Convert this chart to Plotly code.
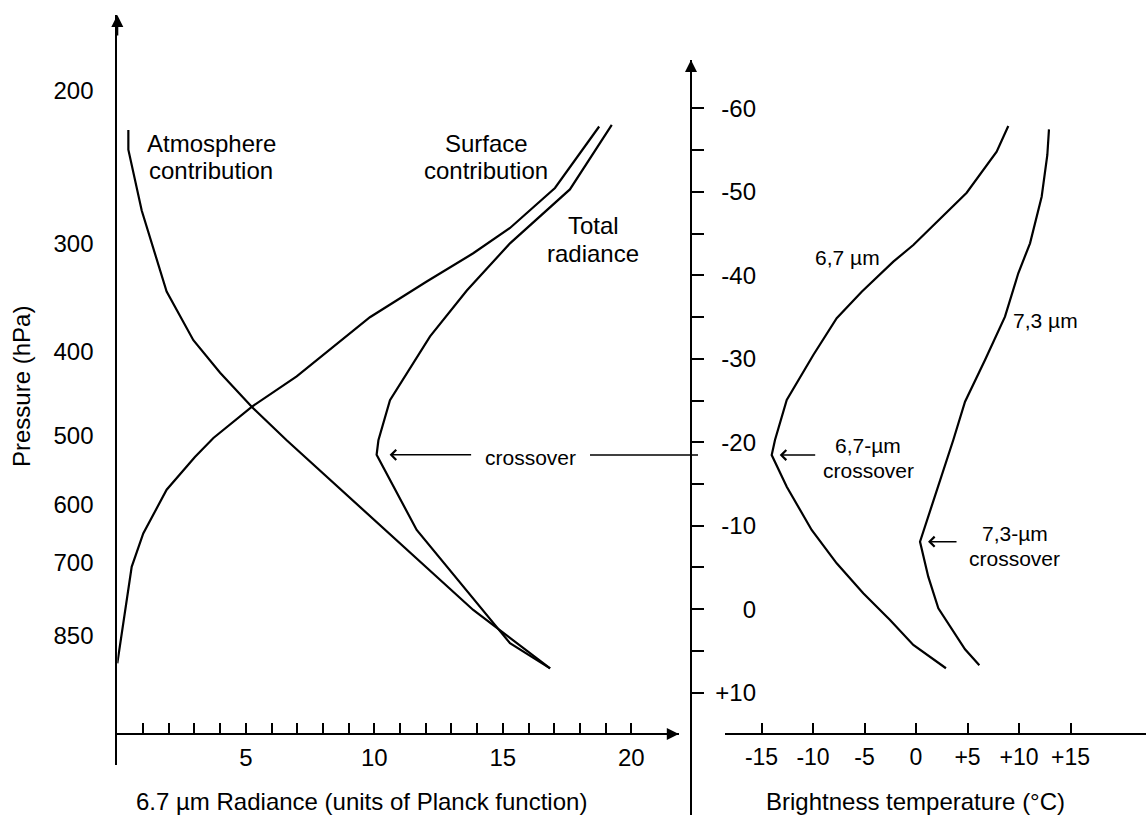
import math
import plotly.graph_objects as go

W, H = 1146, 815
FONT = "Liberation Sans, Arial, Helvetica, sans-serif"

# ---------------- data ----------------
# Left panel: 6.7 um radiance (units of Planck function) vs pressure (hPa)
atm_radiance = [0.43, 0.43, 0.95, 1.92, 2.96, 4.00, 5.23, 6.59, 13.85, 16.84]
atm_pressure = [222, 234, 275, 341, 388, 423, 463, 506, 794, 927]

sfc_radiance = [18.75, 17.03, 15.28, 13.85, 12.04, 9.83, 6.98, 5.23, 3.74, 3.02, 1.92, 1.01, 0.56, 0.0]
sfc_pressure = [220, 259, 288, 308, 332, 365, 427, 463, 503, 529, 577, 648, 708, 915]

tot_radiance = [19.24, 17.61, 15.28, 13.60, 12.17, 10.61, 10.16, 10.09, 11.65, 15.28, 16.84]
tot_pressure = [219, 260, 300, 340, 384, 455, 506, 526, 642, 867, 927]

crossover_radiance = 10.09
crossover_pressure = 526

# Right panel: brightness temperature (x) vs temperature level (y)
bt67_temp = [8.96, 7.83, 4.92, -0.26, -2.20, -5.27, -7.70, -9.97, -12.55, -13.69,
             -14.01, -12.55, -10.13, -7.70, -5.12, -2.52, -0.26, 2.91]
bt67_level = [-57.88, -54.80, -49.89, -43.63, -41.63, -38.03, -34.85, -30.45, -25.06, -20.27,
              -18.47, -14.68, -9.49, -5.50, -1.91, 1.29, 4.28, 7.07]
bt73_temp = [12.91, 12.75, 12.20, 11.07, 9.93, 8.64, 6.70, 4.76, 3.62, 0.39, 1.19, 2.17, 4.76, 6.15]
bt73_level = [-57.48, -54.41, -49.41, -43.83, -40.24, -35.04, -29.85, -24.86, -20.27, -8.09,
              -3.90, -0.11, 4.80, 6.71]

cross67 = (-14.01, -18.47)
cross73 = (0.39, -8.09)

# tick labels
pressure_ticks = [200, 300, 400, 500, 600, 700, 850]
radiance_ticks = list(range(1, 21))
radiance_ticktext = [str(v) if v % 5 == 0 else "" for v in radiance_ticks]
bt_x_ticks = [-15, -10, -5, 0, 5, 10, 15]
bt_x_ticktext = ["-15", "-10", "-5", "0", "+5", "+10", "+15"]
bt_y_ticks = list(range(-60, 15, 5))
bt_y_labelvals = [-60, -50, -40, -30, -20, -10, 0, 10]
bt_y_labeltext = ["-60", "-50", "-40", "-30", "-20", "-10", "0", "+10"]

# ---------------- geometry (pixel calibration) ----------------
def px(x):
    return x / W


def py(y):
    return 1 - y / H


# left panel
LX0, LX1 = 117.3, 678.8          # x-axis extent (px)
R_PER_PX = 1 / 25.7
AXIS_Y = 734
LY_TOP, LY_BOT = 15, 765


def logp_at(ypix):
    return (6.1287 + (ypix - 403.4) / 376.7) / math.log(10)


# right panel
RX0, RX1 = 725.3, 1146
T0_PX, T_PER_PX = 916, 1 / 10.3
RY_TOP = 60
RAXIS_X = 691


def lev_at(ypix):
    return -60 + (ypix - 108.3) / 8.349


line = dict(color="black", width=2.2)

fig = go.Figure()
for xs, ys in [(atm_radiance, atm_pressure), (sfc_radiance, sfc_pressure), (tot_radiance, tot_pressure)]:
    fig.add_trace(go.Scatter(x=xs, y=ys, mode="lines", line=line, xaxis="x", yaxis="y",
                             showlegend=False, hoverinfo="skip"))
for xs, ys in [(bt67_temp, bt67_level), (bt73_temp, bt73_level)]:
    fig.add_trace(go.Scatter(x=xs, y=ys, mode="lines", line=line, xaxis="x2", yaxis="y2",
                             showlegend=False, hoverinfo="skip"))
fig.add_trace(go.Scatter(x=[None], y=[None], xaxis="x2", yaxis="y3", showlegend=False, hoverinfo="skip"))

tickfont = dict(family=FONT, size=24, color="black")
common = dict(showgrid=False, zeroline=False, showline=True, linecolor="black", linewidth=2,
              tickcolor="black", tickwidth=2, tickfont=tickfont)

rng_left_y = [logp_at(LY_BOT), logp_at(LY_TOP)]
rng_right_y = [lev_at(H), lev_at(RY_TOP)]

fig.update_layout(
    width=W, height=H, margin=dict(l=0, r=0, t=0, b=0),
    paper_bgcolor="white", plot_bgcolor="rgba(0,0,0,0)",
    font=dict(family=FONT, color="black"),
    xaxis=dict(**common, domain=[px(LX0), px(LX1)], range=[0, (LX1 - LX0) * R_PER_PX],
               anchor="free", position=py(AXIS_Y), ticks="inside", ticklen=10,
               tickvals=radiance_ticks, ticktext=radiance_ticktext, ticklabelstandoff=2),
    yaxis=dict(**common, type="log", domain=[py(LY_BOT), py(LY_TOP)], range=rng_left_y,
               anchor="x", ticks="", tickvals=pressure_ticks,
               ticktext=[str(v) for v in pressure_ticks], ticklabelstandoff=17),
    xaxis2=dict(**{**common, "tickfont": dict(family=FONT, size=23, color="black")},
                domain=[px(RX0), 1], range=[(RX0 - T0_PX) * T_PER_PX, (RX1 - T0_PX) * T_PER_PX],
                anchor="free", position=py(AXIS_Y), ticks="inside", ticklen=10,
                tickvals=bt_x_ticks, ticktext=bt_x_ticktext, ticklabelstandoff=2),
    yaxis2=dict(**common, domain=[0, py(RY_TOP)], range=rng_right_y, anchor="free",
                position=px(RAXIS_X), side="right", ticks="outside", ticklen=12,
                tickvals=bt_y_ticks, showticklabels=False),
    yaxis3=dict(showgrid=False, zeroline=False, showline=False, overlaying="y2", anchor="free",
                position=px(756), side="left", range=rng_right_y, ticks="",
                tickvals=bt_y_labelvals, ticktext=bt_y_labeltext, tickfont=tickfont),
)

ann = []


def text(t, x, y, size=24, **kw):
    ann.append(dict(text=t, x=px(x), y=py(y), xref="paper", yref="paper", showarrow=False,
                    font=dict(family=FONT, size=size, color="black"),
                    xanchor="center", yanchor="middle", **kw))


text("Atmosphere", 211, 144, 24)
text("contribution", 211, 170, 24)
text("Surface", 486, 144, 24)
text("contribution", 486, 170, 24)
text("Total", 593, 226, 24)
text("radiance", 593, 254, 24)
text("crossover", 530, 457, 21)
text("6,7 µm", 847, 258, 21)
text("7,3 µm", 1045, 321, 21)
text("6,7-µm", 868, 446, 21)
text("crossover", 868, 470, 21)
text("7,3-µm", 1015, 533, 21)
text("crossover", 1014, 558, 21)
text("6.7 µm Radiance (units of Planck function)", 361.5, 801, 24)
text("Brightness temperature (°C)", 915, 801, 24)
text("Pressure (hPa)", 22, 387, 24, textangle=-90)

# axis arrowheads
ann.append(dict(x=0, y=py(LY_TOP), xref="x", yref="paper", ax=0, ay=22, text="", showarrow=True,
                arrowhead=2, arrowsize=1.2, arrowwidth=2, arrowcolor="black"))
ann.append(dict(x=(LX1 - LX0) * R_PER_PX, y=py(AXIS_Y), xref="x", yref="paper", ax=-22, ay=0, text="",
                showarrow=True, arrowhead=2, arrowsize=1.2, arrowwidth=2, arrowcolor="black"))
ann.append(dict(x=px(RAXIS_X), y=rng_right_y[1], xref="paper", yref="y2", ax=0, ay=22, text="",
                showarrow=True, arrowhead=2, arrowsize=1.2, arrowwidth=2, arrowcolor="black"))

# crossover arrows
ann.append(dict(x=crossover_radiance, y=math.log10(crossover_pressure), xref="x", yref="y",
                ax=96, ay=0, text="", showarrow=True, arrowhead=4, arrowsize=1.3, arrowwidth=1.5,
                arrowcolor="black", standoff=13))
ann.append(dict(x=cross67[0], y=cross67[1], xref="x2", yref="y2", ax=45, ay=0, text="",
                showarrow=True, arrowhead=4, arrowsize=1.3, arrowwidth=1.5, arrowcolor="black", standoff=8))
ann.append(dict(x=cross73[0], y=cross73[1], xref="x2", yref="y2", ax=38, ay=0, text="",
                showarrow=True, arrowhead=4, arrowsize=1.3, arrowwidth=1.5, arrowcolor="black", standoff=8))

fig.update_layout(annotations=ann)

# horizontal connector from the "crossover" label to the right-hand axis
fig.add_shape(type="line", xref="paper", yref="y2", x0=px(590), x1=px(698),
              y0=cross67[1], y1=cross67[1], line=dict(color="black", width=1.5))

fig.write_html("out.html")
